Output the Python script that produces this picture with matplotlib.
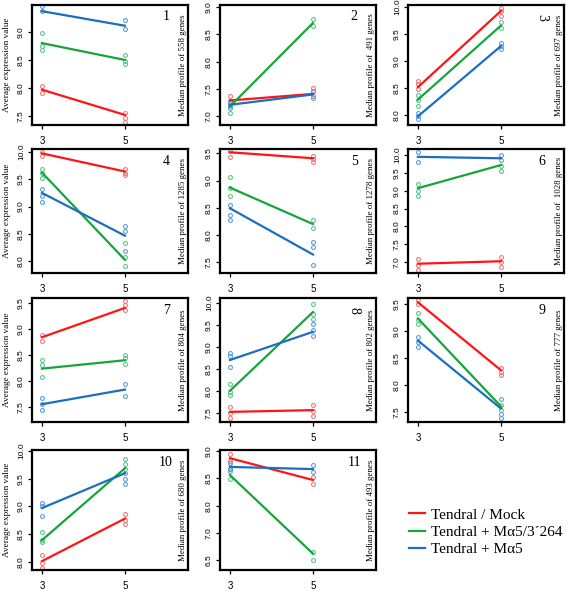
import numpy as np
import matplotlib
matplotlib.use("Agg")
import matplotlib.pyplot as plt
from matplotlib.ticker import MultipleLocator

# ---- dane ----
days = [3, 5]
gene_counts = [558, 491, 697, 1285, 1278, 1028, 804, 802, 777, 680, 493]
series_names = ["Tendral / Mock", "Tendral + M\u03b15/3\u00b4264", "Tendral + M\u03b15"]

# linie profilu (dzien 3, dzien 5)
red_line = [(7.97, 7.52), (7.29, 7.41), (8.52, 9.93), (9.97, 9.64), (9.52, 9.41), (6.95, 7.02),
            (8.84, 9.40), (7.52, 7.56), (9.53, 8.27), (8.01, 8.78), (8.87, 8.47)]
green_line = [(8.80, 8.50), (7.18, 8.71), (8.29, 9.66), (9.62, 8.03), (8.87, 8.20), (9.07, 9.72),
              (8.24, 8.40), (8.00, 9.79), (9.23, 7.60), (8.39, 9.69), (8.56, 7.12)]
blue_line = [(9.37, 9.11), (7.21, 7.40), (7.98, 9.28), (9.25, 8.47), (8.49, 7.64), (9.95, 9.91),
             (7.56, 7.84), (8.70, 9.34), (8.82, 7.56), (8.97, 9.60), (8.71, 8.67)]

# powtorzenia (punkty) dla dnia 3 i 5
red_pts3 = [[8.03, 7.91], [7.38, 7.25], [8.63, 8.57, 8.48], [9.99, 9.93], [9.54, 9.44], [7.09, 6.91, 6.77],
            [8.88, 8.77], [7.64, 7.50, 7.39], [9.57, 9.50], [8.12, 7.97, 7.89], [8.94, 8.82, 8.79]]
red_pts5 = [[7.56, 7.47, 7.39], [7.51, 7.47, 7.38], [9.98, 9.92, 9.83], [9.68, 9.62, 9.58], [9.46, 9.40, 9.35],
            [7.13, 7.00, 6.85], [9.53, 9.46, 9.37], [7.67, 7.54, 7.42], [8.32, 8.24, 8.18], [8.87, 8.76, 8.69],
            [8.52, 8.39]]
green_pts3 = [[8.98, 8.74, 8.68], [7.06, 7.19], [8.37, 8.28, 8.18], [9.68, 9.61, 9.53], [9.07, 8.87, 8.72],
              [9.18, 8.99, 8.86], [8.40, 8.30, 8.08], [8.15, 7.97, 7.90], [9.33, 9.21, 9.13], [8.53, 8.39, 8.35],
              [8.67, 8.49]]
green_pts5 = [[8.59, 8.49, 8.42], [8.79, 8.66], [9.72, 9.61], [8.33, 8.09, 7.92], [8.28, 8.12], [9.70, 9.55],
              [8.51, 8.45, 8.32], [9.98, 9.75, 9.63], [7.62, 7.54], [9.86, 9.76, 9.67], [7.15, 7.01]]
blue_pts3 = [[9.46, 9.37], [7.28, 7.21, 7.15], [8.05, 7.99, 7.94], [9.32, 9.20, 9.09], [8.55, 8.36, 8.27],
             [10.09, 9.80], [7.67, 7.56, 7.45], [8.86, 8.78, 8.53], [8.88, 8.79, 8.70], [9.07, 9.01, 8.82],
             [8.78, 8.67, 8.64]]
blue_pts5 = [[9.21, 9.06], [7.47, 7.34], [9.34, 9.28, 9.23], [8.65, 8.56, 8.19], [7.87, 7.77, 7.44],
             [10.00, 9.86], [7.95, 7.71], [9.52, 9.39, 9.25], [7.74, 7.46, 7.39], [9.60, 9.50, 9.41],
             [8.74, 8.62]]

# zakresy osi y
y_limits = [(7.34, 9.48), (6.84, 9.04), (7.82, 10.04), (7.79, 10.05), (7.30, 9.58), (6.69, 10.17),
            (7.22, 9.59), (7.29, 10.11), (7.31, 9.61), (7.85, 10.02), (6.82, 9.02)]
# panel 11 ma w oryginale takie etykiety osi y
p11_ticks = [7.0, 7.5, 8.0, 8.5, 9.0]
p11_labels = ["6.5", "7.0", "8.0", "8.5", "9.0"]

line_colors = ["#ff1414", "#16a53a", "#1a6fc0"]
point_colors = ["#f27a7a", "#5cc98a", "#5f9fe0"]

# ---- rysowanie ----
W, H = 567, 591
fig = plt.figure(figsize=(W / 100, H / 100), dpi=100)

col_left = [32, 220, 408]
rows = [(5, 125), (149, 273), (298, 422), (450, 570)]
ax_w = 156

sans = "Liberation Sans"
serif = "Liberation Serif"

legend_handles = []
for i in range(11):
    r, c = divmod(i, 3)
    top, bot = rows[r]
    ax = fig.add_axes([col_left[c] / W, 1 - bot / H, ax_w / W, (bot - top) / H])

    lines = [red_line[i], green_line[i], blue_line[i]]
    pts3 = [red_pts3[i], green_pts3[i], blue_pts3[i]]
    pts5 = [red_pts5[i], green_pts5[i], blue_pts5[i]]
    handles = []
    for k in range(3):
        ax.plot([days[0]] * len(pts3[k]), pts3[k], "o", ms=2.8, mfc="none",
                mec=point_colors[k], mew=0.8, zorder=2)
        ax.plot([days[1]] * len(pts5[k]), pts5[k], "o", ms=2.8, mfc="none",
                mec=point_colors[k], mew=0.8, zorder=2)
        h, = ax.plot(days, lines[k], color=line_colors[k], lw=1.6, zorder=3)
        handles.append(h)
    if i == 0:
        legend_handles = handles

    ax.set_xlim(2.76, 6.52)
    ax.set_ylim(*y_limits[i])
    ax.set_xticks(days)
    if i == 10:
        ax.set_yticks(p11_ticks)
        ax.set_yticklabels(p11_labels)
    else:
        ax.yaxis.set_major_locator(MultipleLocator(0.5))
        ax.yaxis.set_major_formatter(matplotlib.ticker.FormatStrFormatter("%.1f"))

    for s in ax.spines.values():
        s.set_linewidth(1.6)
    ax.tick_params(axis="both", direction="out", length=3, width=0.9)
    ax.tick_params(axis="y", labelrotation=90, pad=2, labelsize=6.0)
    ax.tick_params(axis="x", pad=5, labelsize=7)
    for lab in ax.get_xticklabels() + ax.get_yticklabels():
        lab.set_fontfamily(sans)
    for lab in ax.get_yticklabels():
        lab.set_verticalalignment("center")

    if c == 0:
        ax.set_ylabel("Average expression value", fontfamily=serif, fontsize=6.6)
        ax.yaxis.set_label_coords(-21 / ax_w, 0.5)

    spacer = "  " if gene_counts[i] in (491, 1028) else " "
    ax.text(0.965, 0.5, f"Median profile of{spacer}{gene_counts[i]} genes", transform=ax.transAxes,
            rotation=90, ha="center", va="center", fontfamily=serif, fontsize=6.4)

    num_rot = -90 if (i + 1) in (3, 8) else 0
    ax.text(0.86, 0.90, str(i + 1), transform=ax.transAxes, ha="center", va="center",
            rotation=num_rot, fontfamily=serif, fontsize=10)

fig.legend(legend_handles, series_names, loc="center left", bbox_to_anchor=(401 / W, 1 - 532 / H),
           frameon=False, prop={"family": serif, "size": 11}, handlelength=1.1,
           handletextpad=0.35, labelspacing=0.22, borderpad=0)

fig.savefig("out.png", dpi=100)
